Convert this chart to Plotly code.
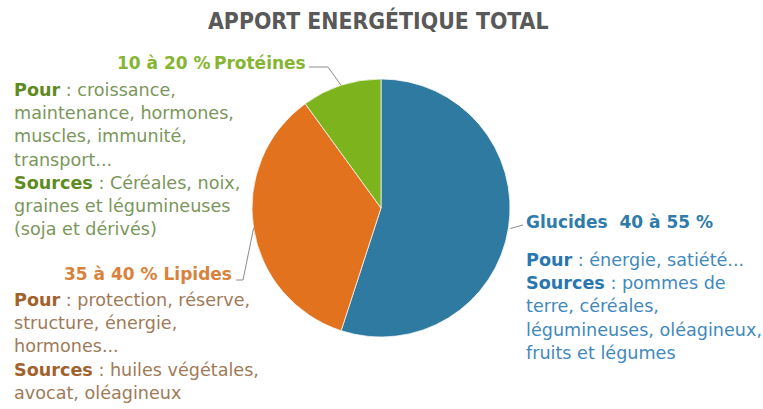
import math
import re
import plotly.graph_objects as go

# --- data -------------------------------------------------------------
nutrients = ["Glucides", "Lipides", "Protéines"]
shares = [55, 35, 10]          # share of total energy intake (%)
ranges = ["40 à 55 %", "35 à 40 %", "10 à 20 %"]

title_text = "APPORT ENERGÉTIQUE TOTAL"

glucides_lines = [
    "<b>Pour</b> : énergie, satiété...",
    "<b>Sources</b> : pommes de",
    "terre, céréales,",
    "légumineuses, oléagineux,",
    "fruits et légumes",
]
lipides_lines = [
    "<b>Pour</b> : protection, réserve,",
    "structure, énergie,",
    "hormones...",
    "<b>Sources</b> : huiles végétales,",
    "avocat, oléagineux",
]
proteines_lines = [
    "<b>Pour</b> : croissance,",
    "maintenance, hormones,",
    "muscles, immunité,",
    "transport...",
    "<b>Sources</b> : Céréales, noix,",
    "graines et légumineuses",
    "(soja et dérivés)",
]

# --- styling ----------------------------------------------------------
W, H = 763, 409
CX, CY, R = 381, 208, 129          # pie centre and radius in pixels
FONT = "DejaVu Sans"
BODY_SIZE = 17.6
HEAD_SIZE = 17
LINE_H = 23.2

slice_colors = {"Glucides": "#2e7aa1", "Lipides": "#e2721e", "Protéines": "#7db31c"}
label_colors = {"Glucides": "#2f7cab", "Lipides": "#d9823c", "Protéines": "#86b531"}
bold_colors = {"Glucides": "#2877b0", "Lipides": "#a3622c", "Protéines": "#5f8b1f"}
body_colors = {"Glucides": "#3f89bd", "Lipides": "#a07a58", "Protéines": "#7b965b"}


def px(x):
    return x / W


def py(y):
    return 1 - y / H


def slice_mid_point(name, r=R):
    """Pixel position on the pie rim at the middle of a slice (clockwise from 12 o'clock)."""
    total = sum(shares)
    i = nutrients.index(name)
    cum = sum(shares[:i])
    ang = math.radians(360 * (cum + shares[i] / 2) / total)
    return CX + r * math.sin(ang), CY - r * math.cos(ang)


def colorize(line, name):
    return re.sub(r"<b>(.*?)</b>",
                  lambda m: f"<b><span style='color:{bold_colors[name]}'>{m.group(1)}</span></b>",
                  line)


fig = go.Figure(go.Pie(
    labels=nutrients,
    values=shares,
    sort=False,
    direction="clockwise",
    rotation=0,
    marker=dict(colors=[slice_colors[n] for n in nutrients],
                line=dict(color="rgba(255,255,255,0.7)", width=1)),
    textinfo="none",
    hoverinfo="label+percent",
    showlegend=False,
    domain=dict(x=[px(CX - R), px(CX + R)], y=[py(CY + R), py(CY - R)]),
))

annotations = []


def add_text(text, x, y, color, anchor="left", bold=False, size=BODY_SIZE):
    annotations.append(dict(
        text=f"<b>{text}</b>" if bold else text,
        x=px(x), y=py(y), xref="paper", yref="paper",
        xanchor=anchor, yanchor="middle", showarrow=False,
        font=dict(family=FONT, size=size, color=color),
    ))


# title
annotations.append(dict(
    text=f"<b>{title_text}</b>", x=px(378), y=py(20), xref="paper", yref="paper",
    xanchor="center", yanchor="middle", showarrow=False,
    font=dict(family="DejaVu Sans Condensed, Roboto, DejaVu Sans", size=22.8, color="#595959"),
))

# slice headings
idx = {n: i for i, n in enumerate(nutrients)}
add_text(f"{ranges[idx['Protéines']]}\u2009Protéines", 308, 63,
         label_colors["Protéines"], anchor="right", bold=True, size=HEAD_SIZE)
add_text(f"{ranges[idx['Lipides']]} Lipides", 234, 274,
         label_colors["Lipides"], anchor="right", bold=True, size=HEAD_SIZE)
add_text(f"Glucides\u00a0 {ranges[idx['Glucides']]}", 524, 222,
         label_colors["Glucides"], bold=True, size=HEAD_SIZE)

# descriptions
for k, line in enumerate(proteines_lines):
    add_text(colorize(line, "Protéines"), 12, 90 + k * LINE_H, body_colors["Protéines"])
for k, line in enumerate(lipides_lines):
    add_text(colorize(line, "Lipides"), 12, 300 + k * LINE_H, body_colors["Lipides"])
for k, line in enumerate(glucides_lines):
    add_text(colorize(line, "Glucides"), 524, 260 + k * LINE_H, body_colors["Glucides"])


# leader lines from slice centres to headings
def path(points):
    d = "M " + " L ".join(f"{px(x):.5f},{py(y):.5f}" for x, y in points)
    return dict(type="path", path=d, xref="paper", yref="paper",
                line=dict(color="#8a8a8a", width=1))


shapes = [
    path([(309, 67), (328, 67), slice_mid_point("Protéines")]),
    path([(236, 280), (243, 280), slice_mid_point("Lipides")]),
    path([slice_mid_point("Glucides", R + 2), (523, 225)]),
]

fig.update_layout(
    width=W, height=H,
    margin=dict(l=0, r=0, t=0, b=0),
    paper_bgcolor="white",
    plot_bgcolor="white",
    annotations=annotations,
    shapes=shapes,
)

fig.write_html("out.html")
